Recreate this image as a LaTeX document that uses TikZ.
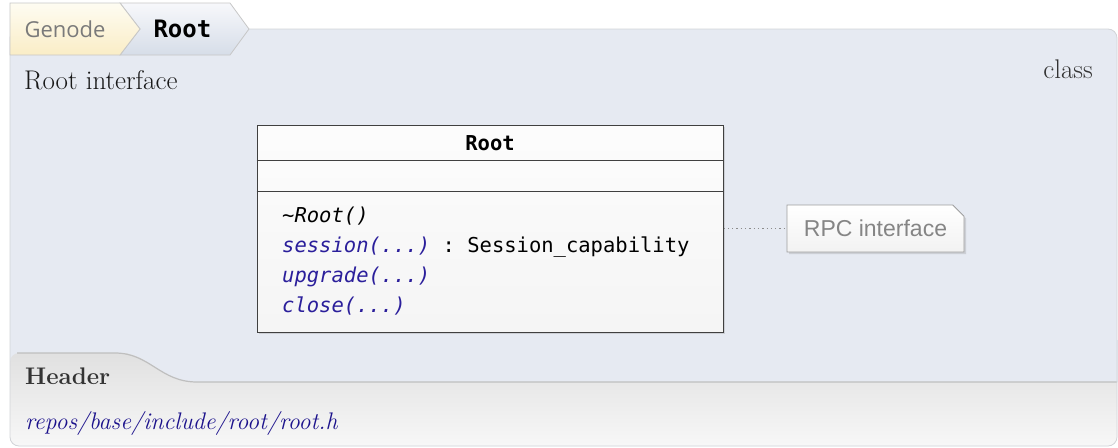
\documentclass[tikz,border=0pt]{standalone}
\usepackage{fontspec}
\setmonofont{DejaVu Sans Mono}
\newfontfamily\crumbfont{Open Sans}
\newfontfamily\notefont{Liberation Sans}
\usetikzlibrary{shapes.misc,shadows}
\definecolor{panelbg}{HTML}{E6EAF2}
\definecolor{panelline}{HTML}{D2D4D8}
\definecolor{methblue}{HTML}{2B1F9B}
\definecolor{linkblue}{HTML}{1C128C}
\definecolor{crumbtop}{HTML}{FEFCF2}
\definecolor{crumbbot}{HTML}{FAEDC6}
\definecolor{roottop}{HTML}{F7F8FB}
\definecolor{rootbot}{HTML}{D6DDE8}
\tikzset{
  crumb/.style={draw=black!22, line width=0.8pt},
  method/.style={anchor=base west, inner sep=0pt, font=\fontsize{20.5}{24}\selectfont\ttfamily},
  umlbox/.style={draw=black!75, line width=1pt, top color=black!1, bottom color=black!4,
    drop shadow={shadow xshift=2pt, shadow yshift=-2pt, opacity=0.25}},
  rpcnote/.style={chamfered rectangle, chamfered rectangle corners=north east,
    chamfered rectangle xsep=16pt, draw=black!38, line width=0.8pt,
    top color=white, bottom color=black!5, inner sep=0pt,
    drop shadow={shadow xshift=2pt, shadow yshift=-2pt, opacity=0.25},
    font=\fontsize{23}{26}\selectfont\notefont, text=black!48}
}
\begin{document}
\begin{tikzpicture}[x=1pt, y=-1pt]
    \useasboundingbox (0,0) rectangle (1118,447);
    % panel
    \fill[panelbg, rounded corners=9pt] (10,29) rectangle (1117,446);
    % header area at the bottom
    \shade[top color=black!12, bottom color=black!3, rounded corners=9pt]
      (10,446) -- (10,353) -- (118,353) -- (1117,353) -- (1117,446) -- cycle;
    \fill[panelbg] (115,352) .. controls (150,352) and (160,382) .. (197,382) -- (1118,382) -- (1118,340) -- (115,340) -- cycle;
    \draw[black!25, line width=1.2pt] (17,353) -- (115,353) .. controls (150,353) and (160,382) .. (197,382) -- (1117,382);
    \draw[panelline, line width=0.8pt, rounded corners=9pt] (10,29) rectangle (1117,446);
    % breadcrumb
    \shade[crumb, top color=roottop, bottom color=rootbot]
      (120,3) -- (230,3) -- (249,29) -- (230,55) -- (120,55) -- (140,29) -- cycle;
    \shade[crumb, top color=crumbtop, bottom color=crumbbot]
      (10,3) -- (120,3) -- (140,29) -- (120,55) -- (10,55) -- cycle;
    \node[anchor=west, text=black!52, font=\fontsize{22}{26}\selectfont\crumbfont] (genode) at (21,29) {Genode};
    \node[anchor=west, font=\fontsize{24}{28}\selectfont\ttfamily\bfseries] (crumbroot) at (150,29) {Root};
    % titles
    \node[anchor=base west, inner sep=0pt, text=black!90, font=\fontsize{27}{30}\selectfont] (title) at (24,89) {Root interface};
    \node[anchor=base east, inner sep=0pt, text=black!80, font=\fontsize{27}{30}\selectfont] (kind) at (1093,78) {class};
    % class box
    \node[umlbox, minimum width=466pt, minimum height=207pt] (root) at (490,228.5) {};
    \draw[black!75, line width=1pt] (root.west |- 0,160) -- (root.east |- 0,160);
    \draw[black!75, line width=1pt] (root.west |- 0,191) -- (root.east |- 0,191);
    \node[font=\fontsize{20.5}{24}\selectfont\ttfamily\bfseries] (rootname) at (490,143) {Root};
    \node[method] (dtor) at (282,222) {\itshape\char`~Root()};
    \node[method] (session) at (282,252) {{\color{methblue}\itshape session(...)} : Session\_capability};
    \node[method, text=methblue] (upgrade) at (282,282) {\itshape upgrade(...)};
    \node[method, text=methblue] (close) at (282,312) {\itshape close(...)};
    % note
    \node[rpcnote, minimum width=177pt, minimum height=47pt] (note) at (875.5,228.5) {RPC interface};
    \draw[black!45, line width=1.3pt, dash pattern=on 1.3pt off 3pt] (root.east |- note.west) -- (note.west);
    % header file
    \node[anchor=base west, inner sep=0pt, text=black!80, font=\fontsize{24}{28}\selectfont\bfseries] (hdr) at (25,384) {Header};
    \node[anchor=base west, inner sep=0pt, text=linkblue, font=\fontsize{24}{28}\selectfont\itshape] (path) at (25,429) {repos/base/include/root/root.h};
  \end{tikzpicture}
\end{document}
